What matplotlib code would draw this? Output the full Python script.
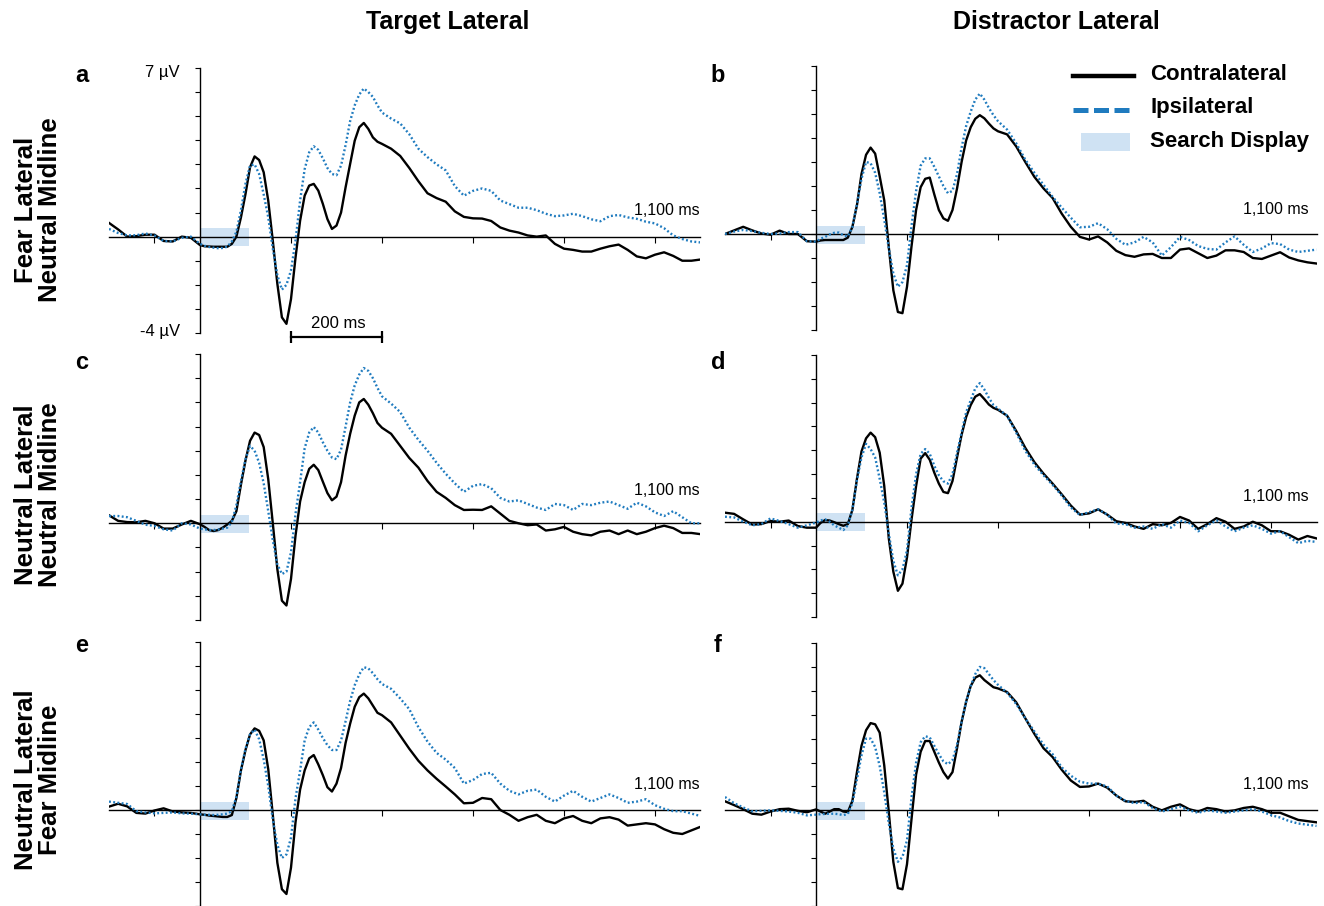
import matplotlib
matplotlib.use('Agg')
import matplotlib.pyplot as plt
from matplotlib.lines import Line2D
from matplotlib.patches import Rectangle

plt.rcParams['font.family'] = ['Liberation Sans', 'DejaVu Sans']

# sample times (ms): 20 ms steps before onset, 10 ms up to 400, 20 ms after
time = list(range(-200, 1, 20)) + list(range(10, 401, 10)) + list(range(420, 1101, 20))

# ---- a: target lateral, fear lateral / neutral midline
a_contra = [0.57, 0.30, 0.00, 0.02, 0.08, 0.08, -0.18, -0.20, 0.00, -0.05, -0.35,
            -0.40, -0.41, -0.42, -0.42, -0.42, -0.42, -0.30, 0.00, 0.80, 1.77,
            2.88, 3.33, 3.18, 2.67, 1.49, -0.17, -1.96, -3.35, -3.62, -2.59,
            -0.86, 0.66, 1.70, 2.12, 2.19, 1.91, 1.36, 0.73, 0.32, 0.46,
            1.00, 2.05, 3.02, 3.98, 4.54, 4.72, 4.47, 4.12, 3.94, 3.85,
            3.65, 3.35, 2.85, 2.30, 1.80, 1.60, 1.45, 1.05, 0.82, 0.76,
            0.75, 0.65, 0.38, 0.25, 0.17, 0.05, 0.00, 0.05, -0.30, -0.50,
            -0.55, -0.62, -0.62, -0.50, -0.40, -0.33, -0.55, -0.82, -0.90, -0.75,
            -0.65, -0.80, -1.00, -1.00, -0.95]
a_ipsi = [0.32, 0.15, 0.05, 0.06, 0.13, 0.05, -0.18, -0.20, -0.05, 0.00, -0.30,
          -0.38, -0.43, -0.46, -0.48, -0.47, -0.42, -0.20, 0.20, 1.10, 2.20,
          2.95, 3.00, 2.60, 1.75, 0.80, -0.50, -1.60, -2.20, -2.00, -1.40,
          -0.15, 1.50, 2.80, 3.50, 3.75, 3.60, 3.25, 2.85, 2.60, 2.55,
          2.95, 3.80, 4.80, 5.45, 5.90, 6.15, 6.00, 5.80, 5.45, 5.15,
          4.90, 4.70, 4.25, 3.65, 3.30, 3.00, 2.75, 2.10, 1.70, 1.90,
          2.00, 1.90, 1.50, 1.35, 1.20, 1.20, 1.10, 0.95, 0.85, 0.88,
          0.95, 0.85, 0.72, 0.64, 0.85, 0.90, 0.80, 0.74, 0.62, 0.55,
          0.35, 0.05, -0.10, -0.20, -0.24]

# ---- b: distractor lateral, fear lateral / neutral midline
b_contra = [0.00, 0.15, 0.30, 0.15, 0.02, -0.03, 0.14, 0.00, 0.00, -0.30, -0.32,
            -0.27, -0.25, -0.25, -0.25, -0.25, -0.25, -0.15, 0.30, 1.20, 2.50,
            3.30, 3.60, 3.35, 2.40, 1.40, -0.55, -2.35, -3.25, -3.30, -2.20,
            -0.50, 1.00, 1.95, 2.30, 2.35, 1.65, 1.00, 0.65, 0.55, 1.00,
            1.90, 3.00, 3.90, 4.45, 4.80, 4.95, 4.82, 4.60, 4.40, 4.28,
            4.15, 3.65, 3.00, 2.38, 1.90, 1.50, 0.85, 0.30, -0.12, -0.23,
            -0.10, -0.35, -0.70, -0.88, -0.95, -0.85, -0.83, -1.00, -1.00, -0.65,
            -0.60, -0.80, -1.00, -0.90, -0.68, -0.68, -0.75, -1.00, -1.04, -0.90,
            -0.76, -0.98, -1.10, -1.18, -1.23]
b_ipsi = [0.00, 0.10, 0.17, 0.12, 0.05, 0.00, 0.02, 0.08, 0.08, -0.30, -0.32,
          -0.20, -0.12, -0.02, 0.05, 0.06, -0.05, -0.10, 0.30, 1.25, 2.30,
          3.00, 2.95, 2.55, 1.70, 0.60, -0.60, -1.65, -2.20, -2.00, -1.30,
          0.35, 1.80, 2.85, 3.15, 3.15, 2.80, 2.40, 2.00, 1.70, 1.80,
          2.50, 3.60, 4.50, 5.10, 5.60, 5.85, 5.60, 5.25, 4.95, 4.70,
          4.35, 3.78, 3.10, 2.55, 2.05, 1.55, 1.10, 0.68, 0.28, 0.30,
          0.45, 0.20, -0.20, -0.45, -0.35, -0.12, -0.35, -0.90, -0.55, -0.12,
          -0.25, -0.50, -0.62, -0.65, -0.35, -0.10, -0.45, -0.75, -0.60, -0.38,
          -0.42, -0.65, -0.75, -0.70, -0.65]

# ---- c: target lateral, neutral lateral / neutral midline
c_contra = [0.33, 0.10, 0.05, 0.04, 0.10, 0.00, -0.22, -0.22, -0.05, 0.10, -0.04,
            -0.15, -0.28, -0.32, -0.28, -0.18, -0.05, 0.10, 0.50, 1.60, 2.60,
            3.41, 3.75, 3.65, 3.15, 1.82, 0.00, -1.90, -3.20, -3.40, -2.30,
            -0.50, 0.90, 1.70, 2.25, 2.42, 2.20, 1.72, 1.25, 0.95, 1.10,
            1.70, 2.80, 3.70, 4.45, 5.00, 5.14, 4.90, 4.55, 4.15, 3.95,
            3.70, 3.20, 2.70, 2.30, 1.75, 1.30, 1.05, 0.75, 0.55, 0.56,
            0.55, 0.70, 0.40, 0.10, 0.00, -0.08, -0.05, -0.30, -0.25, -0.15,
            -0.35, -0.45, -0.50, -0.35, -0.30, -0.45, -0.30, -0.45, -0.35, -0.20,
            -0.10, -0.20, -0.40, -0.40, -0.45]
c_ipsi = [0.30, 0.30, 0.25, 0.10, -0.06, -0.11, -0.25, -0.30, 0.00, -0.05, -0.22,
          -0.25, -0.28, -0.28, -0.26, -0.22, -0.18, 0.05, 0.75, 1.75, 2.65,
          3.20, 3.00, 2.50, 1.65, 0.50, -0.70, -1.70, -2.10, -2.00, -1.20,
          0.40, 1.70, 3.10, 3.75, 3.98, 3.75, 3.35, 3.00, 2.72, 2.65,
          3.05, 4.00, 5.00, 5.70, 6.15, 6.42, 6.30, 6.00, 5.60, 5.25,
          4.95, 4.60, 3.95, 3.45, 3.00, 2.50, 2.05, 1.65, 1.30, 1.55,
          1.62, 1.45, 1.05, 0.90, 0.95, 0.80, 0.65, 0.55, 0.80, 0.75,
          0.55, 0.80, 0.75, 0.85, 0.90, 0.75, 0.60, 0.85, 0.70, 0.45,
          0.30, 0.50, 0.25, 0.00, 0.00]

# ---- d: distractor lateral, neutral lateral / neutral midline
d_contra = [0.38, 0.33, 0.10, -0.12, -0.10, 0.03, 0.00, 0.05, -0.18, -0.25, -0.25,
            -0.05, 0.07, 0.05, -0.02, -0.10, -0.17, -0.10, 0.50, 1.80, 2.95,
            3.50, 3.74, 3.55, 2.90, 1.50, -0.70, -2.10, -2.90, -2.60, -1.50,
            0.10, 1.50, 2.65, 2.88, 2.60, 2.06, 1.60, 1.25, 1.20, 1.71,
            2.70, 3.65, 4.40, 4.90, 5.25, 5.36, 5.15, 4.92, 4.78, 4.70,
            4.45, 3.81, 3.10, 2.50, 2.02, 1.60, 1.15, 0.68, 0.30, 0.35,
            0.52, 0.30, 0.02, -0.05, -0.20, -0.30, -0.10, -0.15, -0.05, 0.20,
            0.05, -0.30, -0.10, 0.15, 0.00, -0.30, -0.20, 0.00, -0.15, -0.40,
            -0.40, -0.55, -0.75, -0.60, -0.70]
d_ipsi = [0.21, 0.18, 0.00, -0.15, -0.10, 0.14, 0.03, -0.10, -0.25, -0.15, -0.04,
          0.05, 0.10, 0.00, -0.15, -0.25, -0.35, -0.15, 0.50, 1.75, 2.70,
          3.27, 3.05, 2.70, 1.80, 0.80, -0.50, -1.65, -2.25, -2.00, -1.20,
          0.60, 2.00, 2.85, 3.05, 2.85, 2.35, 1.95, 1.70, 1.60, 2.00,
          2.90, 3.75, 4.60, 5.10, 5.60, 5.82, 5.55, 5.20, 4.90, 4.75,
          4.45, 3.74, 2.98, 2.40, 1.95, 1.55, 1.10, 0.60, 0.28, 0.40,
          0.52, 0.30, -0.08, -0.10, -0.25, -0.20, -0.30, -0.10, -0.25, 0.05,
          -0.05, -0.40, -0.15, 0.05, -0.20, -0.40, -0.25, -0.15, -0.30, -0.50,
          -0.40, -0.65, -0.90, -0.80, -0.85]

# ---- e: target lateral, neutral lateral / fear midline
e_contra = [0.14, 0.26, 0.15, -0.12, -0.15, -0.02, 0.07, -0.06, -0.10, -0.12, -0.18,
            -0.20, -0.23, -0.25, -0.27, -0.29, -0.29, -0.21, 0.50, 1.65, 2.50,
            3.15, 3.40, 3.30, 2.90, 1.70, -0.20, -2.20, -3.30, -3.50, -2.40,
            -0.50, 0.85, 1.65, 2.15, 2.29, 1.90, 1.45, 0.95, 0.77, 1.10,
            1.75, 2.80, 3.60, 4.30, 4.70, 4.85, 4.65, 4.35, 4.05, 3.95,
            3.65, 3.10, 2.55, 2.05, 1.65, 1.30, 0.98, 0.65, 0.28, 0.30,
            0.50, 0.45, 0.00, -0.20, -0.45, -0.30, -0.20, -0.45, -0.55, -0.35,
            -0.25, -0.45, -0.55, -0.35, -0.30, -0.40, -0.65, -0.60, -0.55, -0.60,
            -0.80, -0.95, -1.00, -0.85, -0.70]
e_ipsi = [0.35, 0.30, 0.25, -0.05, -0.10, -0.14, -0.12, -0.10, -0.14, -0.15, -0.18,
          -0.20, -0.20, -0.21, -0.20, -0.18, -0.15, -0.05, 0.55, 1.70, 2.55,
          3.15, 3.35, 2.95, 2.10, 1.00, -0.40, -1.45, -2.00, -1.85, -1.15,
          0.50, 1.65, 2.90, 3.45, 3.65, 3.35, 3.00, 2.70, 2.50, 2.50,
          2.90, 3.70, 4.55, 5.20, 5.65, 5.95, 5.90, 5.70, 5.45, 5.25,
          5.05, 4.65, 4.20, 3.45, 2.85, 2.38, 2.10, 1.75, 1.10, 1.25,
          1.50, 1.55, 1.10, 0.80, 0.65, 0.80, 0.85, 0.55, 0.35, 0.60,
          0.80, 0.55, 0.35, 0.50, 0.65, 0.50, 0.30, 0.35, 0.45, 0.20,
          0.05, -0.05, -0.05, -0.15, -0.25]

# ---- f: distractor lateral, neutral lateral / fear midline
f_contra = [0.38, 0.22, 0.05, -0.14, -0.18, -0.05, 0.05, 0.07, -0.02, -0.08, 0.04,
            -0.05, -0.14, -0.05, 0.05, 0.05, -0.05, -0.07, 0.40, 1.60, 2.70,
            3.35, 3.65, 3.60, 3.25, 1.88, -0.07, -2.16, -3.25, -3.30, -2.25,
            -0.35, 1.50, 2.45, 2.90, 2.90, 2.45, 2.00, 1.60, 1.33, 1.60,
            2.60, 3.70, 4.55, 5.20, 5.55, 5.65, 5.45, 5.30, 5.15, 5.10,
            4.95, 4.52, 3.85, 3.20, 2.60, 2.23, 1.70, 1.25, 0.98, 1.00,
            1.12, 0.95, 0.62, 0.38, 0.35, 0.40, 0.15, 0.00, 0.15, 0.25,
            0.05, -0.05, 0.10, 0.05, -0.05, 0.00, 0.10, 0.15, 0.05, -0.10,
            -0.10, -0.25, -0.40, -0.45, -0.50]
f_ipsi = [0.56, 0.30, 0.12, -0.04, -0.02, 0.00, -0.02, -0.05, -0.10, -0.21, -0.18,
          -0.16, -0.15, -0.14, -0.14, -0.16, -0.20, -0.15, 0.30, 1.30, 2.30,
          3.00, 3.00, 2.65, 1.85, 0.75, -0.55, -1.60, -2.15, -1.95, -1.25,
          0.55, 2.00, 2.85, 3.10, 3.05, 2.70, 2.35, 2.05, 1.93, 2.10,
          2.75, 3.70, 4.55, 5.20, 5.70, 6.00, 5.95, 5.70, 5.45, 5.25,
          4.92, 4.45, 3.85, 3.30, 2.75, 2.35, 1.80, 1.45, 1.20, 1.12,
          1.12, 1.00, 0.62, 0.40, 0.30, 0.35, 0.10, -0.05, 0.05, 0.15,
          0.00, -0.10, 0.00, -0.05, -0.10, -0.05, 0.00, 0.05, -0.05, -0.20,
          -0.30, -0.45, -0.55, -0.60, -0.65]

search_display = [0, 108]        # ms
search_band = [-0.4, 0.35]       # µV
x_ticks = [-100, 200, 400, 600, 800, 1000]
col_titles = ['Target Lateral', 'Distractor Lateral']
row_titles = ['Fear Lateral\nNeutral Midline', 'Neutral Lateral\nNeutral Midline',
              'Neutral Lateral\nFear Midline']

W, H = 1324, 906
fig = plt.figure(figsize=(W / 100, H / 100), dpi=100)
blue = '#1f7bbf'


def px_axes(left, top, right, bottom):
    return fig.add_axes([left / W, 1 - bottom / H, (right - left) / W, (bottom - top) / H])


panels = [
    ('a', a_contra, a_ipsi, (109, 68, 700.5, 333), 1.08),
    ('b', b_contra, b_ipsi, (725, 66, 1316.5, 330), 1.0),
    ('c', c_contra, c_ipsi, (109, 354, 700.5, 620), 1.37),
    ('d', d_contra, d_ipsi, (725, 355, 1316.5, 617), 1.04),
    ('e', e_contra, e_ipsi, (109, 642, 700.5, 906), 1.08),
    ('f', f_contra, f_ipsi, (725, 643, 1316.5, 906), 1.1),
]

axes = {}
for letter, contra, ipsi, box, label_y in panels:
    ax = px_axes(*box)
    axes[letter] = ax
    ax.patch.set_visible(False)
    ax.set_xlim(-200, 1100)
    ax.set_ylim(-4, 7)
    ax.add_patch(Rectangle((search_display[0], search_band[0]),
                           search_display[1] - search_display[0],
                           search_band[1] - search_band[0],
                           color='#cfe2f3', lw=0, zorder=1))
    ax.plot(time, contra, color='black', lw=1.7, zorder=3)
    ax.plot(time, ipsi, color=blue, lw=1.7, dashes=(0.8, 1.0), zorder=4)

    ax.spines['top'].set_visible(False)
    ax.spines['right'].set_visible(False)
    ax.spines['left'].set_position(('data', 0))
    ax.spines['bottom'].set_position(('data', 0))
    for s in ('left', 'bottom'):
        ax.spines[s].set_linewidth(1.0)
        ax.spines[s].set_zorder(2)
    ax.set_yticks(range(-4, 8))
    ax.set_xticks(x_ticks)
    ax.set_xticklabels([])
    ax.set_yticklabels([])
    ax.tick_params(axis='y', direction='out', length=3.5, width=0.8)
    ax.tick_params(axis='x', direction='out', length=4, width=0.8)

    xr = 1098 if letter in 'ace' else 1082
    ax.text(xr, label_y, '1,100 ms', ha='right', va='center', fontsize=11.5)
    fig.text((82 if letter in 'ace' else 718) / W,
             1 - {'a': 75, 'b': 75, 'c': 363, 'd': 363, 'e': 645, 'f': 645}[letter] / H,
             letter, ha='center', va='center', fontsize=17, fontweight='bold')

# amplitude and time scale in panel a
ax = axes['a']
ax.text(-44, 6.8, '7 µV', ha='right', va='center', fontsize=12)
ax.text(-44, -3.95, '-4 µV', ha='right', va='center', fontsize=12)
ax.plot([200, 400], [-4.15, -4.15], color='black', lw=1.6, marker='|',
        ms=8, mew=1.6, clip_on=False)
ax.text(305, -3.6, '200 ms', ha='center', va='center', fontsize=12)

# column and row titles
fig.text(448 / W, 1 - 22 / H, col_titles[0], ha='center', va='center',
         fontsize=18, fontweight='bold')
fig.text(1056 / W, 1 - 22 / H, col_titles[1], ha='center', va='center',
         fontsize=18, fontweight='bold')
for yc, lab in zip([210, 495, 780], row_titles):
    fig.text(38 / W, 1 - yc / H, lab, ha='center', va='center', rotation=90,
             fontsize=18.5, fontweight='bold', linespacing=1.05)

# legend drawn by hand in figure pixels
fig.add_artist(Line2D([1073 / W, 1134 / W], [1 - 76 / H] * 2, color='black', lw=3.2))
fig.add_artist(Line2D([1073 / W, 1134 / W], [1 - 110 / H] * 2, color=blue, lw=3.6,
                      dashes=(3, 1.1)))
fig.add_artist(Rectangle((1081 / W, 1 - 151 / H), 49 / W, 18 / H, color='#cfe2f3',
                         lw=0, transform=fig.transFigure))
for yc, lab in zip([75, 108, 141], ['Contralateral', 'Ipsilateral', 'Search Display']):
    fig.text(1150 / W, 1 - yc / H, lab, ha='left', va='center', fontsize=16,
             fontweight='bold')

fig.savefig('out.png', dpi=100)
